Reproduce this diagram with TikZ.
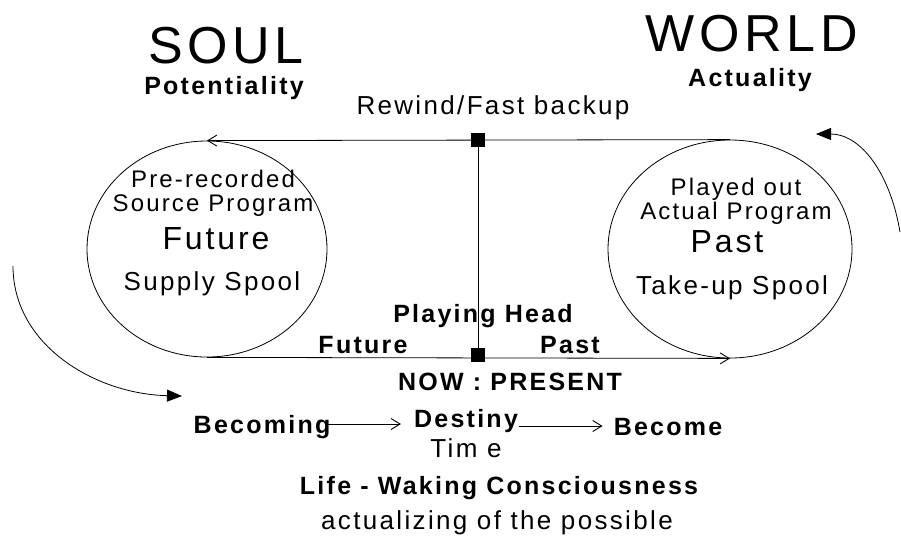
\documentclass[tikz,border=0pt]{standalone}
\usepackage{fontspec}
\setmainfont{Liberation Sans}[LetterSpace=9]
\usetikzlibrary{shapes.geometric,arrows.meta}

\tikzset{
  txt/.style={font=\fontsize{26}{26}\selectfont, inner sep=1pt, align=center},
  btxt/.style={font=\fontsize{25}{25}\selectfont\bfseries, inner sep=1pt, align=center},
  midtxt/.style={font=\fontsize{32}{32}\selectfont, inner sep=1pt},
  bigtxt/.style={font=\fontsize{52}{52}\selectfont, inner sep=1pt},
  spool/.style={draw, ellipse, inner sep=0pt, line width=0.8pt},
  headsq/.style={fill=black, draw=black, minimum size=13pt, inner sep=0pt},
  tape/.style={line width=0.8pt, -{Straight Barb[length=9pt,width=11pt,line width=0.9pt]}},
  turn/.style={line width=0.8pt, -{Triangle[length=15pt,width=12pt]}}
}

\begin{document}
\begin{tikzpicture}[x=1pt,y=-1pt]
    \useasboundingbox (0,0) rectangle (901,542);

    % --- Titles ---
    \node[bigtxt] (soul) at (226,46) {SOUL};
    \node[btxt] (potent) at (224,88) {Potentiality};
    \node[bigtxt] (world) at (752,34) {WORLD};
    \node[btxt] (actual) at (750,80) {Actuality};
    \node[txt] (rewind) at (493,108) {Rewind/Fast backup};

    % --- Spools ---
    \node[spool, minimum width=240pt, minimum height=216pt] (supply) at (207,249) {};
    \node[spool, minimum width=244pt, minimum height=218pt] (takeup) at (730,249) {};

    % left spool text
    \node[txt, font=\fontsize{24}{24}\selectfont] (prerec) at (213,193) {Pre-recorded\\Source Program};
    \node[midtxt] (futurebig) at (216,239) {Future};
    \node[txt] (supplytxt) at (212,284) {Supply Spool};

    % right spool text
    \node[txt, font=\fontsize{24}{24}\selectfont] (played) at (736,201) {Played out\\Actual Program};
    \node[midtxt] (pastbig) at (727,242) {Past};
    \node[txt] (takeuptxt) at (732,288) {Take-up Spool};

    % --- Tape and playing head ---
    \node[headsq] (headtop) at (478,140) {};
    \node[headsq] (headbot) at (478,355) {};
    \draw[tape] (takeup.north) -- (supply.north);
    \draw[tape] (supply.south) -- (takeup.south);
    \draw[line width=0.8pt] (headtop) -- (headbot);

    \node[btxt] (playing) at (483,316) {Playing Head};
    \node[btxt] (futurelbl) at (363,345) {Future};
    \node[btxt] (pastlbl) at (570,345) {Past};
    \node[btxt] (now) at (510,382) {NOW : PRESENT};

    % --- Turning arrows ---
    \coordinate (lstart) at (13,266);
    \coordinate (lend) at (182,396);
    \draw[turn] (lstart) .. controls (13,345) and (95,394) .. (lend);
    \coordinate (rstart) at (900,232);
    \coordinate (rend) at (816,134);
    \draw[turn] (rstart) .. controls (890,172) and (860,134) .. (rend);

    % --- Becoming / Destiny / Become ---
    \node[btxt] (becoming) at (262,427) {Becoming};
    \node[btxt] (destiny) at (466,421) {Destiny};
    \node[txt] (time) at (466,448) {Tim e};
    \node[btxt] (become) at (668,427) {Become};
    \draw[tape, shorten >=12pt] ([xshift=-4pt,yshift=3pt]becoming.east) -- ([yshift=3pt]becoming.east -| destiny.west);
    \draw[tape, shorten >=10pt] ([yshift=-5pt]destiny.east) -- ([yshift=-5pt]destiny.east -| become.west);

    \node[btxt] (life) at (499,488) {Life - Waking Consciousness};
    \node[txt] (possible) at (497,523) {actualizing of the possible};
\end{tikzpicture}
\end{document}
